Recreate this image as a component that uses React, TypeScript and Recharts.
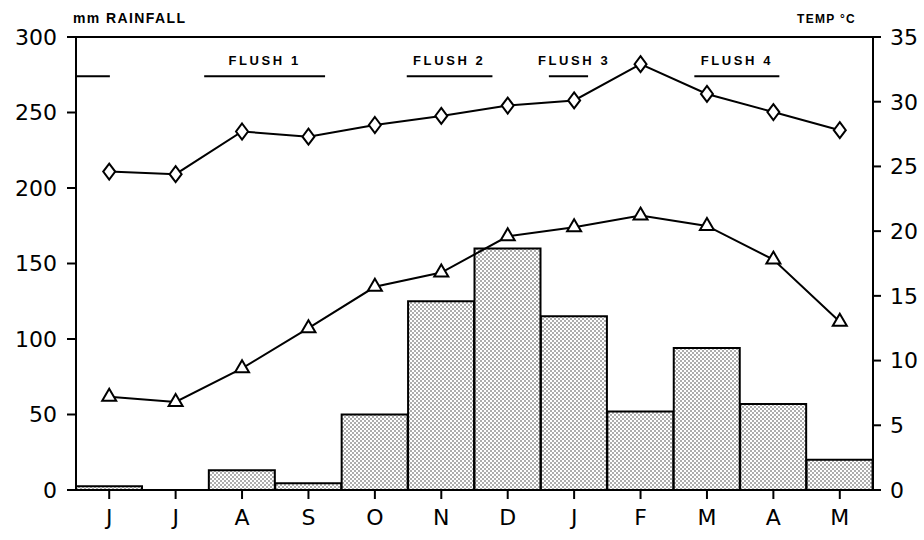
import React from 'react';
import {
  ComposedChart,
  Bar,
  Line,
  XAxis,
  YAxis,
  ReferenceLine,
} from 'recharts';

// months June -> May
const months = ['Jun', 'Jul', 'Aug', 'Sep', 'Oct', 'Nov', 'Dec', 'Jan', 'Feb', 'Mar', 'Apr', 'May'];
const monthLabels = ['J', 'J', 'A', 'S', 'O', 'N', 'D', 'J', 'F', 'M', 'A', 'M'];

const rainfall = [2.5, 0, 13, 4.5, 50, 125, 160, 115, 52, 94, 57, 20];
const maxTemp = [24.6, 24.4, 27.7, 27.3, 28.2, 28.9, 29.7, 30.1, 32.9, 30.6, 29.2, 27.8];
const minTemp = [7.2, 6.8, 9.4, 12.5, 15.7, 16.8, 19.6, 20.3, 21.2, 20.4, 17.8, 13.0];

const rainTicks = [0, 50, 100, 150, 200, 250, 300];
const tempTicks = [0, 5, 10, 15, 20, 25, 30, 35];

// flush periods, in month units from the start of June
const flushNames = ['', 'FLUSH 1', 'FLUSH 2', 'FLUSH 3', 'FLUSH 4'];
const flushStart = [0, 1.93, 4.98, 7.12, 9.31];
const flushEnd = [0.51, 3.75, 6.27, 7.71, 10.59];
const flushTextAt = [0, 2.84, 5.62, 7.5, 9.95];
const flushLevel = 274;

const data = months.map((m, i) => ({
  month: m,
  rain: rainfall[i],
  tmax: maxTemp[i],
  tmin: minTemp[i],
}));

const font = 'DejaVu Sans';
const labelFont = 'Liberation Sans';

const Diamond = (props: any) => {
  const { cx, cy, index } = props;
  if (cx == null || cy == null) return null;
  return (
    <polygon
      key={'d' + index}
      points={`${cx},${cy - 8} ${cx + 6},${cy} ${cx},${cy + 8} ${cx - 6},${cy}`}
      fill="#fff"
      stroke="#000"
      strokeWidth={2}
    />
  );
};

const Triangle = (props: any) => {
  const { cx, cy, index } = props;
  if (cx == null || cy == null) return null;
  return (
    <polygon
      key={'t' + index}
      points={`${cx},${cy - 8} ${cx + 7},${cy + 4} ${cx - 7},${cy + 4}`}
      fill="#fff"
      stroke="#000"
      strokeWidth={2}
    />
  );
};

// the reference segment runs from the Jun centre to the May centre;
// the flush bars are placed in month units along it
const FlushMarks = (props: any) => {
  const { x1, x2, y1 } = props;
  if (x1 == null || x2 == null || y1 == null) return <g />;
  const unit = (x2 - x1) / 11;
  const x0 = x1 - unit / 2;
  return (
    <g>
      {flushNames.map((name, i) => (
        <g key={'f' + i}>
          <line
            x1={x0 + flushStart[i] * unit}
            x2={x0 + flushEnd[i] * unit}
            y1={y1}
            y2={y1}
            stroke="#000"
            strokeWidth={2}
          />
          {name && (
            <text
              x={x0 + flushTextAt[i] * unit}
              y={y1 - 11}
              textAnchor="middle"
              fontSize={13}
              fontWeight="bold"
              fontFamily={labelFont}
              letterSpacing={2.6}
              fill="#000"
            >
              {name}
            </text>
          )}
        </g>
      ))}
    </g>
  );
};

const App: React.FC = () => {
  return (
    <div style={{ position: 'absolute', left: 0, top: 0, background: '#fff' }}>
      <ComposedChart
        width={924}
        height={540}
        data={data}
        margin={{ top: 37, right: 0, left: 0, bottom: 0 }}
        barCategoryGap={0}
        barGap={0}
      >
        <defs>
          <pattern id="dots" width="4" height="4" patternUnits="userSpaceOnUse">
            <rect width="4" height="4" fill="#fff" />
            <circle cx="1" cy="1" r="0.75" fill="#333" />
            <circle cx="3" cy="3" r="0.75" fill="#333" />
          </pattern>
        </defs>
        <XAxis
          dataKey="month"
          height={50}
          tickFormatter={(_v: string, i: number) => monthLabels[i]}
          tick={{ fill: '#000', fontSize: 22, fontFamily: font }}
          tickSize={9}
          tickMargin={10}
          axisLine={{ stroke: '#000', strokeWidth: 2 }}
          tickLine={{ stroke: '#000', strokeWidth: 2 }}
        />
        <YAxis
          yAxisId="rain"
          domain={[0, 300]}
          ticks={rainTicks}
          width={76}
          tick={{ fill: '#000', fontSize: 22, fontFamily: font }}
          tickSize={9}
          tickMargin={10}
          axisLine={{ stroke: '#000', strokeWidth: 2 }}
          tickLine={{ stroke: '#000', strokeWidth: 2 }}
          label={{
            content: ({ viewBox }: any) => (
              <text
                x={viewBox.x + 73}
                y={viewBox.y - 14}
                fontSize={14}
                fontWeight="bold"
                fontFamily={labelFont}
                letterSpacing={1.4}
                fill="#000"
              >
                mm RAINFALL
              </text>
            ),
          }}
        />
        <YAxis
          yAxisId="temp"
          orientation="right"
          domain={[0, 35]}
          ticks={tempTicks}
          width={51}
          tick={{ fill: '#000', fontSize: 22, fontFamily: font }}
          tickSize={8}
          tickMargin={9}
          axisLine={{ stroke: '#000', strokeWidth: 2 }}
          tickLine={{ stroke: '#000', strokeWidth: 2 }}
          label={{
            content: ({ viewBox }: any) => (
              <text
                x={viewBox.x - 76}
                y={viewBox.y - 14}
                fontSize={12}
                fontWeight="bold"
                fontFamily={labelFont}
                letterSpacing={1.3}
                fill="#000"
              >
                TEMP °C
              </text>
            ),
          }}
        />
        <ReferenceLine yAxisId="rain" y={300} stroke="#000" strokeWidth={2} />
        <Bar
          yAxisId="rain"
          dataKey="rain"
          fill="url(#dots)"
          stroke="#000"
          strokeWidth={2}
          isAnimationActive={false}
        />
        <Line
          yAxisId="temp"
          dataKey="tmax"
          type="linear"
          stroke="#000"
          strokeWidth={2}
          dot={Diamond}
          activeDot={false}
          isAnimationActive={false}
        />
        <Line
          yAxisId="temp"
          dataKey="tmin"
          type="linear"
          stroke="#000"
          strokeWidth={2}
          dot={Triangle}
          activeDot={false}
          isAnimationActive={false}
        />
        <ReferenceLine
          yAxisId="rain"
          segment={[
            { x: months[0], y: flushLevel },
            { x: months[months.length - 1], y: flushLevel },
          ]}
          ifOverflow="visible"
          shape={FlushMarks}
        />
      </ComposedChart>
    </div>
  );
};

export default App;
